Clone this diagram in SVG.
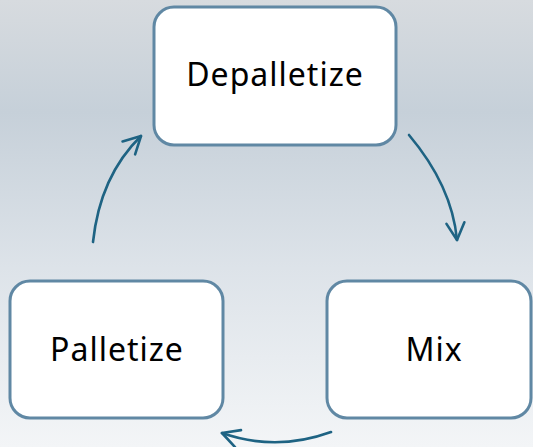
<svg xmlns="http://www.w3.org/2000/svg" width="533" height="447" viewBox="0 0 533 447">
<defs>
<linearGradient id="bg" x1="0" y1="0" x2="0" y2="1">
<stop offset="0" stop-color="#d7dbdf"/>
<stop offset="0.25" stop-color="#c6d0d9"/>
<stop offset="0.6" stop-color="#dde3e9"/>
<stop offset="1" stop-color="#f3f5f7"/>
</linearGradient>
<marker id="arr" markerUnits="userSpaceOnUse" markerWidth="40" markerHeight="40" viewBox="-20 -20 40 40" refX="0" refY="0" orient="auto" overflow="visible">
<path d="M-17,-9 L0,0 L-17,9" fill="none" stroke="#1e6383" stroke-width="2.6" stroke-linecap="round" stroke-linejoin="round"/>
</marker>
<style>
.box{fill:#ffffff;stroke:#6088a4;stroke-width:3}
.lbl{font-family:"Noto Sans","Open Sans",sans-serif;font-size:32px;fill:#000;text-anchor:middle}
.con{fill:none;stroke:#1e6383;stroke-width:2.6;stroke-linecap:round;marker-end:url(#arr)}
</style>
</defs>
<rect x="0" y="0" width="533" height="447" fill="url(#bg)"/>
<g id="connectors">
<path class="con" d="M93,242 Q100,176 141,136"/>
<path class="con" d="M409,135 Q452,186 457,240"/>
<path class="con" d="M331,432 Q276,452 222,433"/>
</g>
<g id="depalletize">
<rect class="box" x="154" y="7" width="242" height="138" rx="20"/>
<text class="lbl" x="275" y="86" letter-spacing="1">Depalletize</text>
</g>
<g id="palletize">
<rect class="box" x="10" y="281" width="213" height="137" rx="20"/>
<text class="lbl" x="117" y="361" letter-spacing="1">Palletize</text>
</g>
<g id="mix">
<rect class="box" x="327" y="281" width="204" height="137" rx="20"/>
<text class="lbl" x="434" y="361" letter-spacing="1">Mix</text>
</g>
</svg>
